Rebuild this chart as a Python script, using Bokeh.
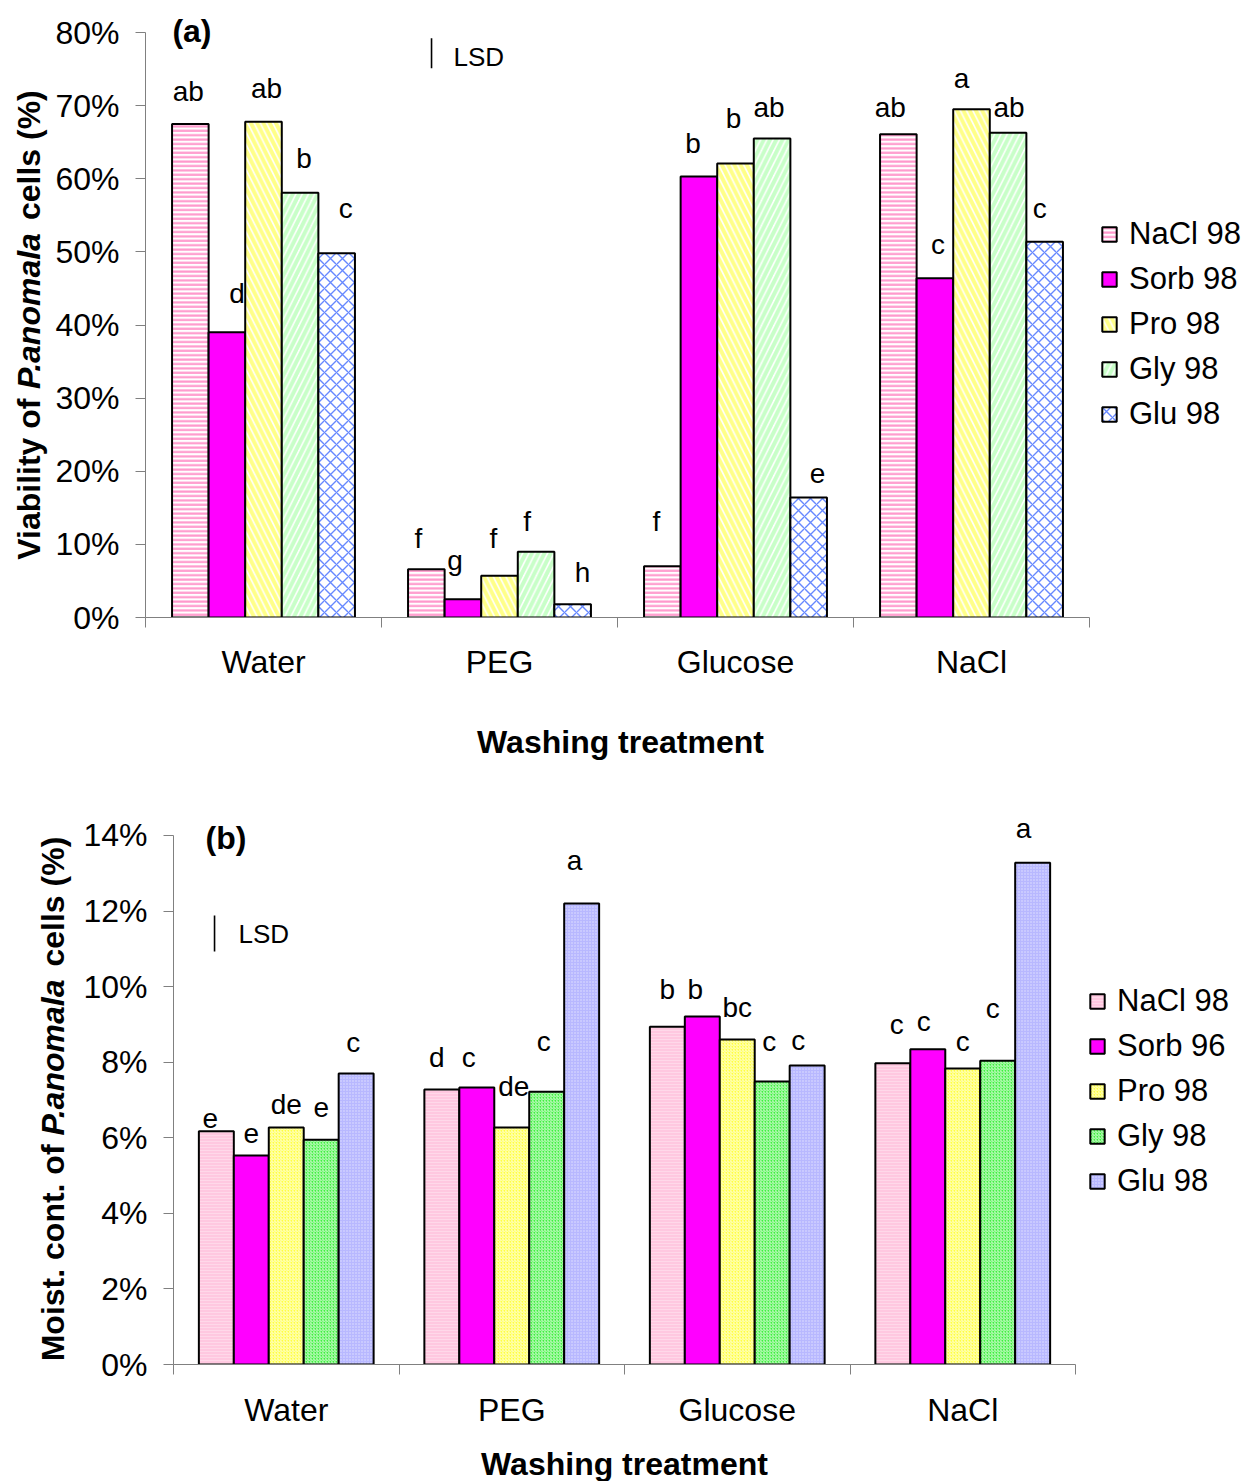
import math
from bokeh.plotting import figure
from bokeh.models import (ColumnDataSource, FixedTicker, PrintfTickFormatter,
                          Legend, LegendItem)
from bokeh.layouts import column, row
from bokeh.embed import file_html
from bokeh.resources import INLINE
from bokeh.core.properties import value

FONT = "Liberation Sans"

treatments = ["Water", "PEG", "Glucose", "NaCl"]

# ---- (a) viability of P. anomala cells (%) ----
series_a = ["NaCl 98", "Sorb 98", "Pro 98", "Gly 98", "Glu 98"]
via_nacl = [67.5, 6.6, 7.0, 66.1]
via_sorb = [39.0, 2.5, 60.3, 46.4]
via_pro = [67.8, 5.7, 62.1, 69.5]
via_gly = [58.1, 9.0, 65.5, 66.3]
via_glu = [49.8, 1.8, 16.4, 51.4]
via_letters = [
    ["ab", "f", "f", "ab"],
    ["d", "g", "b", "c"],
    ["ab", "f", "b", "a"],
    ["b", "f", "ab", "ab"],
    ["c", "h", "e", "c"],
]
via_lsd = 4.1
via_ticks = [0, 10, 20, 30, 40, 50, 60, 70, 80]

# ---- (b) moisture content of P. anomala cells (%) ----
series_b = ["NaCl 98", "Sorb 96", "Pro 98", "Gly 98", "Glu 98"]
moist_nacl = [6.17, 7.28, 8.94, 7.97]
moist_sorb = [5.53, 7.33, 9.21, 8.34]
moist_pro = [6.27, 6.27, 8.60, 7.83]
moist_gly = [5.95, 7.22, 7.49, 8.04]
moist_glu = [7.70, 12.20, 7.91, 13.28]
moist_letters = [
    ["e", "d", "b", "c"],
    ["e", "c", "b", "c"],
    ["de", "de", "bc", "c"],
    ["e", "c", "c", "c"],
    ["c", "a", "c", "a"],
]
moist_lsd = 0.95
moist_ticks = [0, 2, 4, 6, 8, 10, 12, 14]

# hand-placed nudges (px) of the significance letters: (dx, rise above bar top)
via_nudge = [
    [(-2, 32), (-8, 31), (-6, 45), (-8, 27)],
    [(10, 39), (-8, 39), (-6, 33), (3, 34)],
    [(3, 33), (-6, 37), (-2, 45), (-10, 31)],
    [(4, 34), (-9, 30), (-3, 31), (1, 25)],
    [(9, 45), (10, 32), (9, 24), (-5, 33)],
]
moist_nudge = [
    [(-6, 13), (-5, 32), (0, 37), (4, 39)],
    [(0, 22), (-8, 30), (-7, 27), (-4, 28)],
    [(0, 23), (2, 41), (0, 32), (0, 27)],
    [(0, 32), (-3, 50), (-3, 40), (-5, 52)],
    [(-3, 31), (-7, 43), (-9, 25), (-9, 34)],
]

style_a = [
    dict(fill_color="white", hatch_pattern="horizontal_line", hatch_color="#FF99CC",
         hatch_scale=4.4, hatch_weight=2.2),
    dict(fill_color="#FF00FF"),
    dict(fill_color="white", hatch_pattern="left_diagonal_line", hatch_color="#FFFF88",
         hatch_scale=12.5, hatch_weight=4),
    dict(fill_color="white", hatch_pattern="right_diagonal_line", hatch_color="#C8FFC8",
         hatch_scale=12.5, hatch_weight=4),
    dict(fill_color="white", hatch_pattern="diagonal_cross", hatch_color="#6688FF",
         hatch_scale=12, hatch_weight=1.4),
]
style_b = [
    dict(fill_color="#FFC8E0", hatch_pattern="horizontal_line", hatch_color="white",
         hatch_scale=3, hatch_weight=0.6, hatch_alpha=0.5),
    dict(fill_color="#FF00FF"),
    dict(fill_color="#FFFF40", hatch_pattern="right_diagonal_line", hatch_color="white",
         hatch_scale=3, hatch_weight=1, hatch_alpha=0.7),
    dict(fill_color="#40F040", hatch_pattern="right_diagonal_line", hatch_color="white",
         hatch_scale=3, hatch_weight=1, hatch_alpha=0.7),
    dict(fill_color="#B8B8FF", hatch_pattern="dot", hatch_color="white",
         hatch_scale=3, hatch_weight=1, hatch_alpha=0.6),
]

BAR_W = 0.155
AXIS_GREY = "#808080"
SPACE_EM = 0.278
XTITLE = "Washing treatment"
W = 1247


def no_align(p):
    if "frame_align" in p.properties():
        p.frame_align = False


def blank(width, height):
    """Axis-less figure whose frame fills it, used for free-standing titles."""
    t = figure(width=width, height=height, output_backend="svg", toolbar_location=None,
               x_range=(0, width), y_range=(0, height),
               x_axis_location=None, y_axis_location=None,
               min_border_left=0, min_border_right=0, min_border_top=0, min_border_bottom=0)
    t.outline_line_color = None
    t.grid.visible = False
    no_align(t)
    return t


def y_title(width, height, cx, cy, parts, size=32):
    """Rotated y-axis title, pieced together so the species name can be set in
    italics. Each part: (text, style, advance in em, leading gap in em)."""
    t = blank(width, height)
    total = sum(em + gap for _, _, em, gap in parts) * size
    y = (height - cy) - total / 2
    for text, style, em, gap in parts:
        y += gap * size
        t.text(x=[cx], y=[y], text=[text], angle=math.pi / 2, text_align="left",
               text_baseline="middle", text_font=value(FONT), text_font_size=f"{size}px",
               text_font_style=style, text_color="black")
        y += em * size
    return t


def x_title(width, height, cx, cy, size=32):
    t = blank(width, height)
    t.text(x=[cx], y=[height - cy], text=[XTITLE], text_align="center",
           text_baseline="middle", text_font=value(FONT), text_font_size=f"{size}px",
           text_font_style="bold", text_color="black")
    return t


def build(series, values, letters, nudges, styles, ticks, x_end, y_end, bounds, lsd, lsd_pos,
          tag_pos, lsd_text_pos, tag, width, height, borders, label_standoff, legend_loc):
    left, top, bottom = borders
    n = len(treatments)
    p = figure(width=width, height=height, output_backend="svg", toolbar_location=None,
               x_range=(0, x_end), y_range=(0, y_end),
               min_border_left=left, min_border_right=0,
               min_border_top=top, min_border_bottom=bottom)
    p.outline_line_color = None
    p.grid.visible = False
    p.background_fill_color = "white"
    p.border_fill_color = "white"
    no_align(p)

    renderers = []
    for j, (name, vals) in enumerate(zip(series, values)):
        xs = [i + 0.5 + (j - 2) * BAR_W for i in range(n)]
        src = ColumnDataSource(dict(x=xs, top=vals, lab=letters[j],
                                    dx=[d[0] for d in nudges[j]],
                                    dy=[-d[1] for d in nudges[j]]))
        r = p.vbar(x="x", top="top", bottom=0, width=BAR_W, source=src,
                   line_color="black", line_width=2, **styles[j])
        renderers.append(r)
        p.text(x="x", y="top", text="lab", x_offset="dx", y_offset="dy", source=src,
               text_align="center", text_baseline="middle", text_font=value(FONT),
               text_font_size="28px", text_color="black")

    # x axis: labels at the group centres, ticks on the group boundaries
    xa = p.xaxis[0]
    xa.bounds = (0, n)
    xa.ticker = FixedTicker(ticks=[i + 0.5 for i in range(n)],
                            minor_ticks=list(range(n + 1)))
    xa.major_label_overrides = {i + 0.5: t for i, t in enumerate(treatments)}
    xa.major_tick_out = 0
    xa.major_tick_in = 0
    xa.minor_tick_out = 10
    xa.minor_tick_in = 0
    xa.minor_tick_line_color = AXIS_GREY
    xa.axis_line_color = AXIS_GREY
    xa.major_label_text_font = FONT
    xa.major_label_text_font_size = "32px"
    xa.major_label_text_color = "black"
    xa.major_label_standoff = label_standoff

    ya = p.yaxis[0]
    ya.ticker = FixedTicker(ticks=ticks)
    ya.bounds = bounds
    ya.formatter = PrintfTickFormatter(format="%d%%")
    ya.major_tick_out = 10
    ya.major_tick_in = 0
    ya.minor_tick_line_color = None
    ya.major_tick_line_color = AXIS_GREY
    ya.axis_line_color = AXIS_GREY
    ya.major_label_text_font = FONT
    ya.major_label_text_font_size = "32px"
    ya.major_label_text_color = "black"
    ya.major_label_standoff = 16

    # panel tag, LSD bar and its caption
    p.text(x=[tag_pos[0]], y=[tag_pos[1]], text=[tag], text_align="left",
           text_baseline="middle", text_font=value(FONT), text_font_size="32px",
           text_font_style="bold", text_color="black")
    lx, ly = lsd_pos
    p.segment(x0=[lx], y0=[ly], x1=[lx], y1=[ly + lsd], line_color="black", line_width=1.6)
    p.text(x=[lsd_text_pos[0]], y=[lsd_text_pos[1]], text=["LSD"], text_align="left",
           text_baseline="middle", text_font=value(FONT), text_font_size="26px",
           text_color="black")

    legend = Legend(items=[LegendItem(label=s, renderers=[r]) for s, r in zip(series, renderers)],
                    location=legend_loc, glyph_width=18, glyph_height=18, label_standoff=11,
                    spacing=9, padding=0, margin=0, border_line_color=None,
                    background_fill_alpha=0, label_text_font=FONT,
                    label_text_font_size="31px", label_text_color="black")
    p.add_layout(legend)
    return p


# ---- figure (a) ----
ta = y_title(48, 720, 28, 324.5, [("Viability of", "bold", 5.335, 0),
                                  ("P.anomala", "bold italic", 5.002, 0),
                                  ("cells (%)", "bold", 4.335 - SPACE_EM, SPACE_EM)])
pa = build(series_a, [via_nacl, via_sorb, via_pro, via_gly, via_glu], via_letters, via_nudge,
           style_a, via_ticks, 1102 / 236, 80 + 27 / 7.3125, (0, 80), via_lsd, (1.212, 75.1),
           (0.114, 80.27), (1.305, 76.7), "(a)",
           width=W - 48, height=720, borders=(97, 5, 103),
           label_standoff=16, legend_loc=(955, 185))
xa_title = x_title(W, 50, 620, 21)

# ---- figure (b) ----
tb = y_title(72, 670, 52, 1098.5 - 770, [("Moist. cont. of", "bold", 7.056, 0),
                                         ("P.anomala", "bold italic", 5.002, 0),
                                         ("cells (%)", "bold", 4.335 - SPACE_EM, SPACE_EM)])
pb = build(series_b, [moist_nacl, moist_sorb, moist_pro, moist_gly, moist_glu], moist_letters,
           moist_nudge, style_b, moist_ticks, 1074 / 225.5, 564 / 37.79, (0, 14), moist_lsd,
           (0.182, 10.93), (0.142, 13.92), (0.288, 11.38), "(b)",
           width=W - 72, height=670, borders=(101, 30, 76),
           label_standoff=17, legend_loc=(915, 165))
xb_title = x_title(W, 41, 624, 23)

layout = column(row(ta, pa, spacing=0), xa_title,
                row(tb, pb, spacing=0), xb_title, spacing=0)
open("out.html", "w").write(file_html(layout, INLINE))
